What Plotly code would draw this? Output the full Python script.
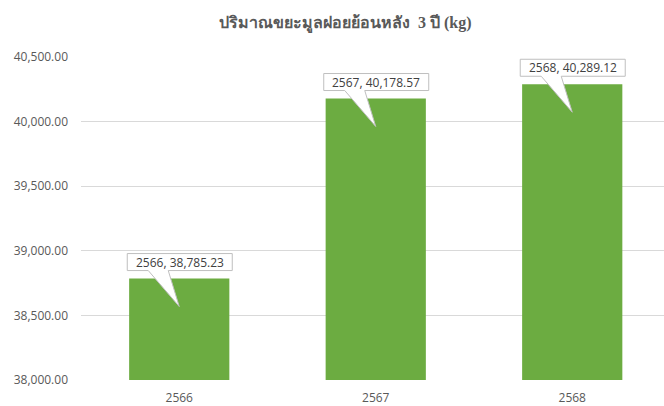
import plotly.graph_objects as go

categories = ["2566", "2567", "2568"]
values = [38785.23, 40178.57, 40289.12]
labels = ["2566, 38,785.23", "2567, 40,178.57", "2568, 40,289.12"]
title_text = "ปริมาณขยะมูลฝอยย้อนหลัง  3 ปี (kg)"

fig = go.Figure()
fig.add_trace(go.Bar(
    x=categories, y=values, width=0.51,
    marker=dict(color="#6cac41", line=dict(width=0)),
    hoverinfo="skip",
))

callout_path = "M -52,8 L -31,8 L 0,-28 L -11,8 L 53,8 L 53,25 L -52,25 Z"
for i, (v, t) in enumerate(zip(values, labels)):
    fig.add_shape(type="path", xref="x", yref="y", xsizemode="pixel", ysizemode="pixel",
                  xanchor=i, yanchor=v, path=callout_path,
                  fillcolor="white", line=dict(color="#bfbfbf", width=1), layer="above")
    fig.add_annotation(x=i, y=v, text=t, showarrow=False, yshift=16.5, xshift=0.5,
                       font=dict(family="Open Sans, sans-serif", size=12, color="#404040"))

fig.update_layout(
    width=664, height=406,
    margin=dict(l=81, r=0, t=57, b=26),
    paper_bgcolor="white", plot_bgcolor="white",
    showlegend=False,
    title=dict(text="<b>" + title_text + "</b>", x=0.52, xanchor="center", y=0.945, yanchor="middle",
               font=dict(family="Liberation Serif, serif", size=16, color="#595959")),
    xaxis=dict(type="category", range=[-0.5, 2.467], showgrid=False, showline=False, ticks="",
               ticklabelstandoff=9,
               tickfont=dict(family="Open Sans, sans-serif", size=12, color="#595959")),
    yaxis=dict(range=[38000, 40500], dtick=500, tickformat=",.2f", showgrid=True,
               gridcolor="#d9d9d9", gridwidth=1, zeroline=False, showline=False, ticks="",
               ticklabelstandoff=12,
               tickfont=dict(family="Open Sans, sans-serif", size=12, color="#595959")),
)
fig.write_html("out.html", config={"displayModeBar": False},
               post_script="document.body.style.margin='0';")
